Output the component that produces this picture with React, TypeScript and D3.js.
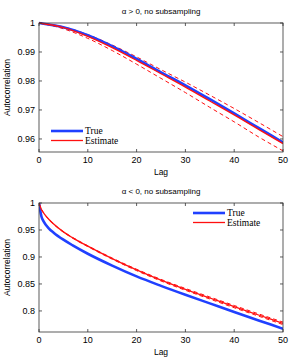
import React from "react";
import * as d3 from "d3";

// top panel: alpha > 0
const topLags = [0, 5, 10, 15, 20, 25, 30, 35, 40, 45, 50];
const topTrue = [1, 0.9985, 0.9958, 0.992, 0.9876, 0.983, 0.9785, 0.9737, 0.9688, 0.9638, 0.9588];
const topEst = [1, 0.9984, 0.9954, 0.9915, 0.9871, 0.9825, 0.9779, 0.9731, 0.9683, 0.9633, 0.9584];
const topUpper = [1, 0.9987, 0.996, 0.9924, 0.9883, 0.9839, 0.9796, 0.9751, 0.9705, 0.9657, 0.9608];
const topLower = [1, 0.998, 0.9947, 0.9905, 0.9858, 0.9809, 0.976, 0.9709, 0.9659, 0.9607, 0.9559];
const topTicks = [0.96, 0.97, 0.98, 0.99, 1];

// bottom panel: alpha < 0
const botLags = [0, 0.5, 1, 2, 3, 5, 7, 10, 15, 20, 25, 30, 35, 40, 45, 50];
const botTrue = [1, 0.975, 0.965, 0.953, 0.945, 0.932, 0.921, 0.906, 0.884, 0.864, 0.8465, 0.83, 0.814, 0.798, 0.7825, 0.767];
const botEst = [1, 0.988, 0.981, 0.97, 0.961, 0.9465, 0.935, 0.92, 0.897, 0.876, 0.857, 0.84, 0.824, 0.808, 0.7925, 0.777];
const botUpper = [1, 0.988, 0.981, 0.9705, 0.9615, 0.947, 0.9357, 0.9208, 0.898, 0.8773, 0.8585, 0.8417, 0.8259, 0.8101, 0.7946, 0.7793];
const botLower = [1, 0.988, 0.981, 0.9695, 0.9605, 0.946, 0.9343, 0.9192, 0.896, 0.8747, 0.8555, 0.8383, 0.8221, 0.8059, 0.7904, 0.7747];
const botTicks = [0.8, 0.85, 0.9, 0.95, 1];

const xTicks = [0, 10, 20, 30, 40, 50];

const BLUE = "#2040ff";
const RED = "#ff1010";
const SANS = "'Liberation Sans', Arial, sans-serif";
const SERIF = "'Liberation Serif', 'Times New Roman', serif";

interface PanelProps {
  top: number;
  bottom: number;
  yDomain: [number, number];
  yTicks: number[];
  lags: number[];
  truth: number[];
  est: number[];
  upper: number[];
  lower: number[];
  title: string;
  legend: { x: number; y: number };
}

const Panel = (p: PanelProps) => {
  const left = 39;
  const right = 283;
  const x = d3.scaleLinear().domain([0, 50]).range([left, right]);
  const y = d3.scaleLinear().domain(p.yDomain).range([p.bottom, p.top]);
  const line = (vals: number[]) =>
    d3
      .line<number>()
      .x((_, i) => x(p.lags[i]))
      .y((d) => y(d))
      .curve(d3.curveMonotoneX)(vals) as string;
  const tl = 3;
  return (
    <g>
      <defs>
        <clipPath id={`clip${p.top}`}>
          <rect x={left} y={p.top - 2} width={right - left} height={p.bottom - p.top + 2} />
        </clipPath>
      </defs>
      <text x={161} y={p.top - 9} fontSize={8} fontFamily={SANS} textAnchor="middle">
        {p.title}
      </text>
      <g clipPath={`url(#clip${p.top})`}>
        <path d={line(p.upper)} fill="none" stroke={RED} strokeWidth={1} strokeDasharray="4,3" />
        <path d={line(p.lower)} fill="none" stroke={RED} strokeWidth={1} strokeDasharray="4,3" />
        <path d={line(p.truth)} fill="none" stroke={BLUE} strokeWidth={2.6} />
        <path d={line(p.est)} fill="none" stroke={RED} strokeWidth={1.3} />
      </g>
      <rect x={left} y={p.top} width={right - left} height={p.bottom - p.top} fill="none" stroke="#333" strokeWidth={0.8} />
      {xTicks.map((t) => (
        <g key={`x${t}`}>
          <line x1={x(t)} x2={x(t)} y1={p.bottom} y2={p.bottom - tl} stroke="#333" strokeWidth={0.8} />
          <line x1={x(t)} x2={x(t)} y1={p.top} y2={p.top + tl} stroke="#333" strokeWidth={0.8} />
          <text x={x(t)} y={p.bottom + 11} fontSize={9} fontFamily={SANS} textAnchor="middle">
            {t}
          </text>
        </g>
      ))}
      {p.yTicks.map((t) => (
        <g key={`y${t}`}>
          <line x1={left} x2={left + tl} y1={y(t)} y2={y(t)} stroke="#333" strokeWidth={0.8} />
          <line x1={right} x2={right - tl} y1={y(t)} y2={y(t)} stroke="#333" strokeWidth={0.8} />
          <text x={left - 4} y={y(t) + 3} fontSize={9} fontFamily={SANS} textAnchor="end">
            {d3.format("")(t)}
          </text>
        </g>
      ))}
      <text x={161} y={p.bottom + 23} fontSize={8.5} fontFamily={SANS} textAnchor="middle">
        Lag
      </text>
      <text
        transform={`translate(10,${(p.top + p.bottom) / 2}) rotate(-90)`}
        fontSize={8.5}
        fontFamily={SANS}
        textAnchor="middle"
      >
        Autocorrelation
      </text>
      <g transform={`translate(${p.legend.x},${p.legend.y})`}>
        <line x1={0} x2={32} y1={0} y2={0} stroke={BLUE} strokeWidth={2.6} />
        <text x={34} y={3} fontSize={9.5} fontFamily={SERIF}>
          True
        </text>
        <line x1={0} x2={32} y1={9.5} y2={9.5} stroke={RED} strokeWidth={1.3} />
        <text x={34} y={12.8} fontSize={9.5} fontFamily={SERIF}>
          Estimate
        </text>
      </g>
    </g>
  );
};

export default function App() {
  return (
    <svg
      width={292}
      height={359}
      style={{ position: "absolute", left: 0, top: 0, background: "#fff" }}
    >
      <Panel
        top={23}
        bottom={152}
        yDomain={[0.9555, 1]}
        yTicks={topTicks}
        lags={topLags}
        truth={topTrue}
        est={topEst}
        upper={topUpper}
        lower={topLower}
        title="α > 0, no subsampling"
        legend={{ x: 51, y: 131 }}
      />
      <Panel
        top={203}
        bottom={332}
        yDomain={[0.761, 1]}
        yTicks={botTicks}
        lags={botLags}
        truth={botTrue}
        est={botEst}
        upper={botUpper}
        lower={botLower}
        title="α < 0, no subsampling"
        legend={{ x: 193, y: 213 }}
      />
    </svg>
  );
}
